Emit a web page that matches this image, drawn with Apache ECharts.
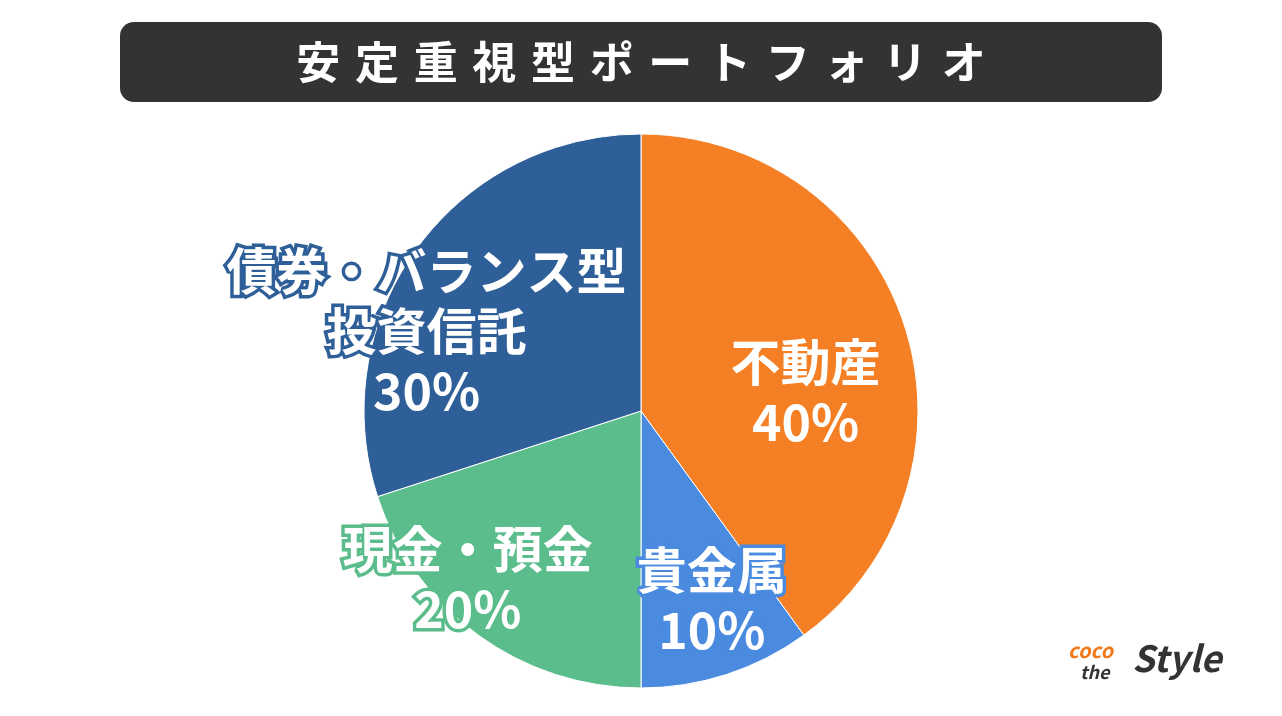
<!DOCTYPE html>
<html>
<head>
<meta charset="utf-8">
<script src="https://cdn.jsdelivr.net/npm/echarts@6/dist/echarts.min.js"></script>
<style>html,body{margin:0;padding:0;background:#fff;}#chart{width:1282px;height:716px;}</style>
</head>
<body>
<div id="chart"></div>
<script>
const names = ['不動産', '貴金属', '現金・預金', '債券・バランス型\n投資信託'];
const values = [40, 10, 20, 30];
const colors = ['#F47F24', '#4A8BE0', '#5BBD8B', '#2E5F98'];
const labelOffsets = [[30, 25], [27, 54], [-90, 54], [-100, 3]];

const chart = echarts.init(document.getElementById('chart'));
const font = '"Noto Sans CJK JP", "Noto Sans", sans-serif';
const title = '安定重視型ポートフォリオ'.split('').join('\u2004');

chart.setOption({
  animation: false,
  graphic: [
    {
      type: 'rect', shape: { x: 120, y: 22, width: 1042, height: 80, r: 14 },
      style: { fill: '#333333' }
    },
    {
      type: 'text', x: 641, y: 62,
      style: { text: title, fill: '#fff', font: 'bold 44px ' + font, align: 'center', verticalAlign: 'middle' }
    },
    {
      type: 'text', x: 1068, y: 650,
      style: { text: 'coco', fill: '#F07A1A', font: 'italic bold 20px ' + font, verticalAlign: 'middle' }
    },
    {
      type: 'text', x: 1080, y: 672,
      style: { text: 'the', fill: '#333', font: 'italic bold 18px ' + font, verticalAlign: 'middle' }
    },
    {
      type: 'text', x: 1132, y: 658,
      style: { text: 'Style', fill: '#333', font: 'italic bold 36px ' + font, verticalAlign: 'middle' }
    }
  ],
  series: [{
    type: 'pie',
    center: [641, 411],
    radius: [0, 277],
    startAngle: 90,
    clockwise: true,
    itemStyle: { borderColor: '#fff', borderWidth: 1 },
    label: {
      show: true,
      position: 'inside',
      color: '#fff',
      fontFamily: font,
      fontWeight: 'bold',
      fontSize: 50,
      lineHeight: 60,
      textBorderWidth: 7,
      formatter: p => p.name + '\n' + p.value + '%'
    },
    labelLine: { show: false },
    data: names.map((n, i) => ({
      name: n, value: values[i],
      itemStyle: { color: colors[i] },
      label: { textBorderColor: colors[i], offset: labelOffsets[i] }
    }))
  }]
});
</script>
</body>
</html>
